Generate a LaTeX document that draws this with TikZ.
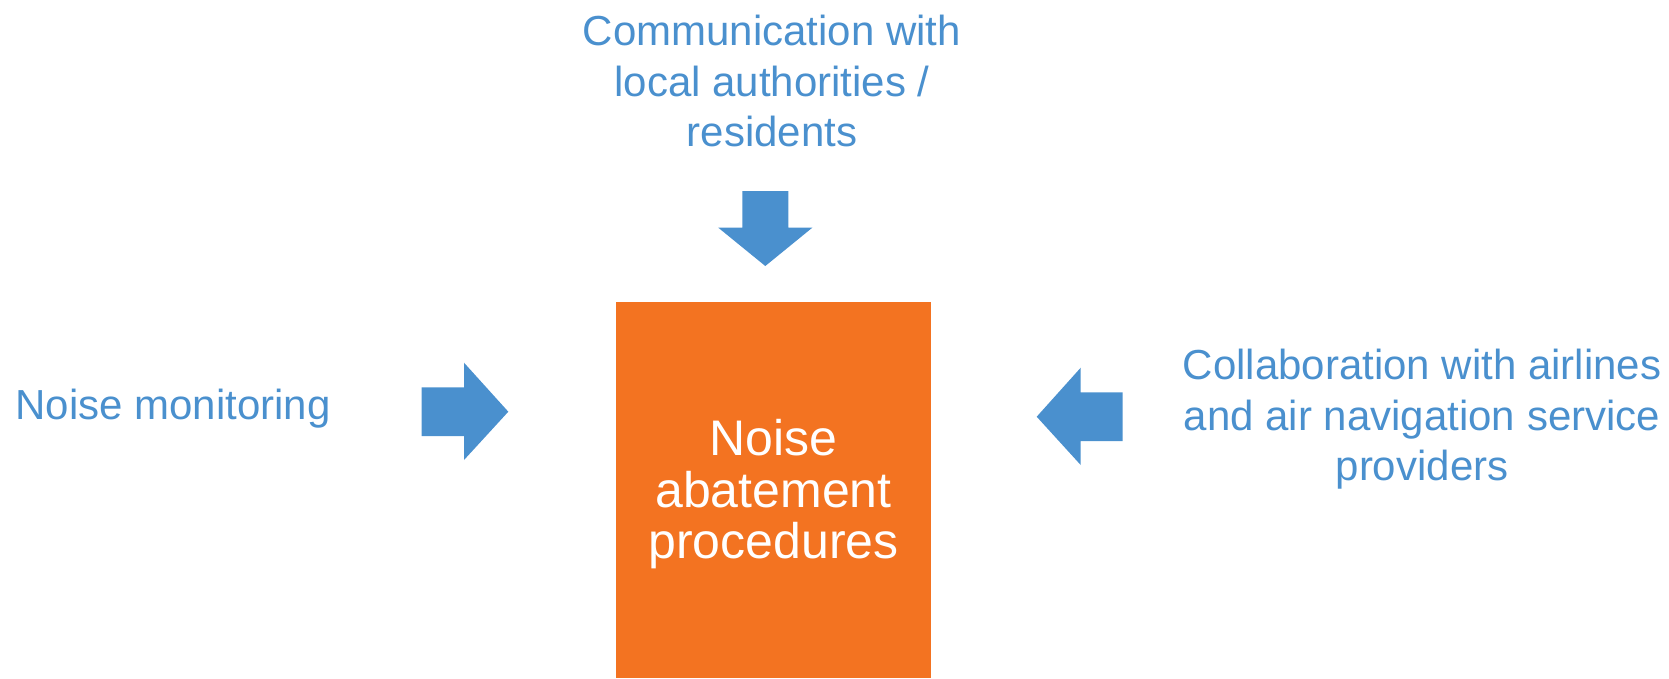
\documentclass[tikz,border=0pt]{standalone}
\usepackage{fontspec}
\setmainfont{Liberation Sans}
\definecolor{arrowblue}{HTML}{4A90CE}
\definecolor{boxorange}{HTML}{F37321}
\tikzset{
  input text/.style={text=arrowblue, font=\fontsize{42}{50.4}\selectfont, align=center, inner sep=0pt, anchor=base},
  block arrow/.style={fill=arrowblue},
}
\begin{document}
\begin{tikzpicture}[x=1pt,y=-1pt]
\useasboundingbox (0,0) rectangle (1669,678);
% central box
\node[fill=boxorange, minimum width=315pt, minimum height=376.3pt, inner sep=0pt] (abatement) at (773.5,489.85) {};
\node[text=white, font=\fontsize{50}{51.3}\selectfont, align=center, inner sep=0pt, anchor=base] (abatementtext) at (773.5,558.3) {Noise\\abatement\\procedures};
% inputs (base = last line)
\node[input text] (communication) at (772,146.7) {Communication with\\local authorities /\\residents};
\node[input text] (monitoring) at (173,419.3) {Noise monitoring};
\node[input text] (collaboration) at (1422,480.5) {Collaboration with airlines\\and air navigation service\\providers};
% block arrows
\fill[block arrow] (742.3,191) -- (788.3,191) -- (788.3,227.7) -- (812.3,227.7) -- (765.3,266) -- (718.3,227.7) -- (742.3,227.7) -- cycle;
\fill[block arrow] (421.7,387.3) -- (464,387.3) -- (464,362.7) -- (508.3,411.7) -- (464,460) -- (464,436) -- (421.7,436) -- cycle;
\fill[block arrow] (1122.7,392.3) -- (1080.7,392.3) -- (1080.7,367.7) -- (1036.7,416.7) -- (1080.7,465) -- (1080.7,441) -- (1122.7,441) -- cycle;
\end{tikzpicture}
\end{document}
